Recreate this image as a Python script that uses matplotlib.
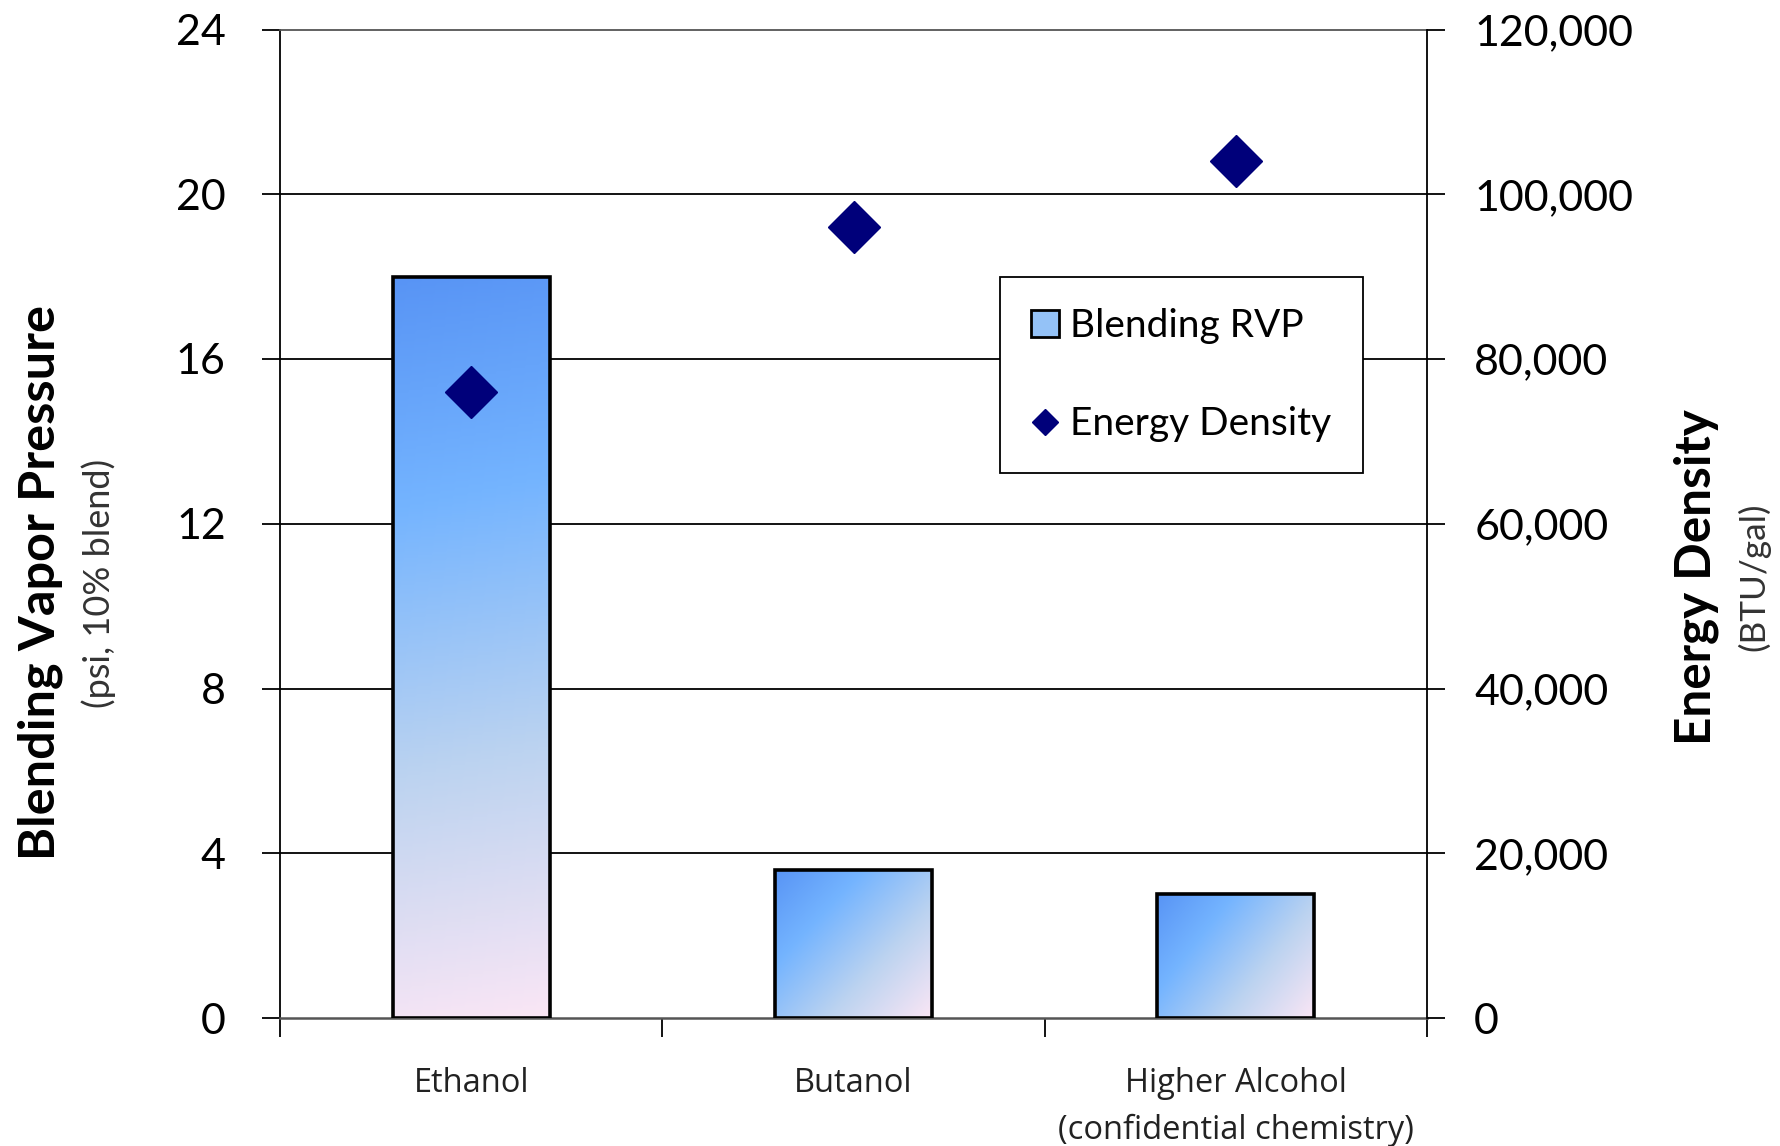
import numpy as np
import matplotlib
matplotlib.use("Agg")
import matplotlib.pyplot as plt
from matplotlib.colors import LinearSegmentedColormap
from matplotlib.patches import Rectangle, Patch
from matplotlib.lines import Line2D

# ---- data ----
categories = ["Ethanol", "Butanol", "Higher Alcohol\n(confidential chemistry)"]
blending_rvp = [18.0, 3.6, 3.0]              # psi, 10% blend
energy_density = [76000, 96000, 104000]       # BTU/gal
left_ticks = [0, 4, 8, 12, 16, 20, 24]
right_ticks = [0, 20000, 40000, 60000, 80000, 100000, 120000]

FONT = ["Lato", "DejaVu Sans"]
plt.rcParams["font.family"] = FONT

W, H, DPI = 1780, 1146, 100
fig = plt.figure(figsize=(W / DPI, H / DPI), dpi=DPI)
L, R, T, B = 280, 1427, 29.5, 1018
ax = fig.add_axes([L / W, 1 - B / H, (R - L) / W, (B - T) / H])
ax.set_xlim(-0.5, 2.5)
ax.set_ylim(0, 24)

# gridlines
for y in left_ticks[1:-1]:
    ax.axhline(y, color="black", lw=1.3, zorder=1)

# gradient-filled bars
grad = LinearSegmentedColormap.from_list(
    "bar", [(0.0, "#5894F5"), (0.3, "#74B4FF"), (0.65, "#BCD3F0"), (1.0, "#FAE6F5")])
bar_w = 0.41
ax_w_px = R - L
ax_h_px = B - T
for i, v in enumerate(blending_rvp):
    x0 = i - bar_w / 2
    wpx = bar_w / 3 * ax_w_px
    hpx = v / 24 * ax_h_px
    nx, ny = 120, 240
    u = np.linspace(0, 1, nx)[None, :]
    s = np.linspace(0, 1, ny)[:, None]   # 0 at top
    t = (u * wpx ** 2 + s * hpx ** 2) / (wpx ** 2 + hpx ** 2)
    img = grad(t)
    ax.imshow(img, extent=(x0, x0 + bar_w, 0, v), origin="upper",
              aspect="auto", interpolation="bilinear", zorder=2)
    ax.add_patch(Rectangle((x0, 0), bar_w, v, facecolor="none",
                           edgecolor="black", lw=2.6, zorder=3))
ax.set_xlim(-0.5, 2.5)
ax.set_ylim(0, 24)

# left axis
ax.set_yticks(left_ticks)
ax.set_yticklabels([str(t) for t in left_ticks])
ax.tick_params(axis="y", direction="out", length=13, width=1.3, pad=26,
               labelsize=31, colors="black")
ax.spines["left"].set_linewidth(1.3)
ax.spines["right"].set_visible(False)
ax.spines["top"].set_color("#555555")
ax.spines["top"].set_linewidth(1.3)
ax.spines["bottom"].set_color("#555555")
ax.spines["bottom"].set_linewidth(1.8)

# x axis: boundary ticks, centred labels
ax.set_xticks([-0.5, 0.5, 1.5, 2.5])
ax.set_xticklabels([])
ax.tick_params(axis="x", which="major", direction="out", length=14, width=1.3)
ax.set_xticks([0, 1, 2], minor=True)
ax.set_xticklabels(categories, minor=True, fontsize=23.5, family=["Open Sans", "DejaVu Sans"],
                   linespacing=1.55, color="#222222")
ax.tick_params(axis="x", which="minor", length=0, pad=35)

# right axis
ax2 = ax.twinx()
ax2.set_ylim(0, 120000)
ax2.set_yticks(right_ticks)
ax2.set_yticklabels([f"{t:,}" for t in right_ticks])
ax2.tick_params(axis="y", direction="out", length=13, width=1.3, pad=21, labelsize=31)
for sp in ["left", "top", "bottom"]:
    ax2.spines[sp].set_visible(False)
ax2.spines["right"].set_linewidth(1.3)
ax2.plot(range(len(categories)), energy_density, linestyle="none", marker="D",
         markersize=26, color="#00007A", zorder=5)

# axis titles
fig.text(40 / W, 1 - 583 / H, "Blending Vapor Pressure", rotation=90, ha="center",
         va="center", fontsize=36.3, fontweight="bold")
fig.text(99 / W, 1 - 583 / H, "(psi, 10% blend)", rotation=90, ha="center",
         va="center", fontsize=26, color="#333333")
fig.text(1696 / W, 1 - 577 / H, "Energy Density", rotation=90, ha="center",
         va="center", fontsize=35.6, fontweight="bold")
fig.text(1754 / W, 1 - 577 / H, "(BTU/gal)", rotation=90, ha="center",
         va="center", fontsize=25.4, color="#333333")

# legend
handles = [Patch(facecolor="#94C2F7", edgecolor="black", lw=2),
           Line2D([], [], linestyle="none", marker="D", markersize=13, color="#00007A")]
leg = ax2.legend(handles, ["Blending RVP", "Energy Density"], loc="upper left",
                 bbox_to_anchor=(0.628, 0.7496), borderaxespad=0, fontsize=28,
                 frameon=True, fancybox=False, edgecolor="black", framealpha=1,
                 handlelength=0.7, handleheight=0.7, handletextpad=0.3,
                 labelspacing=1.6, borderpad=0.8)
leg.get_frame().set_linewidth(1.3)

fig.savefig("out.png", dpi=DPI)
